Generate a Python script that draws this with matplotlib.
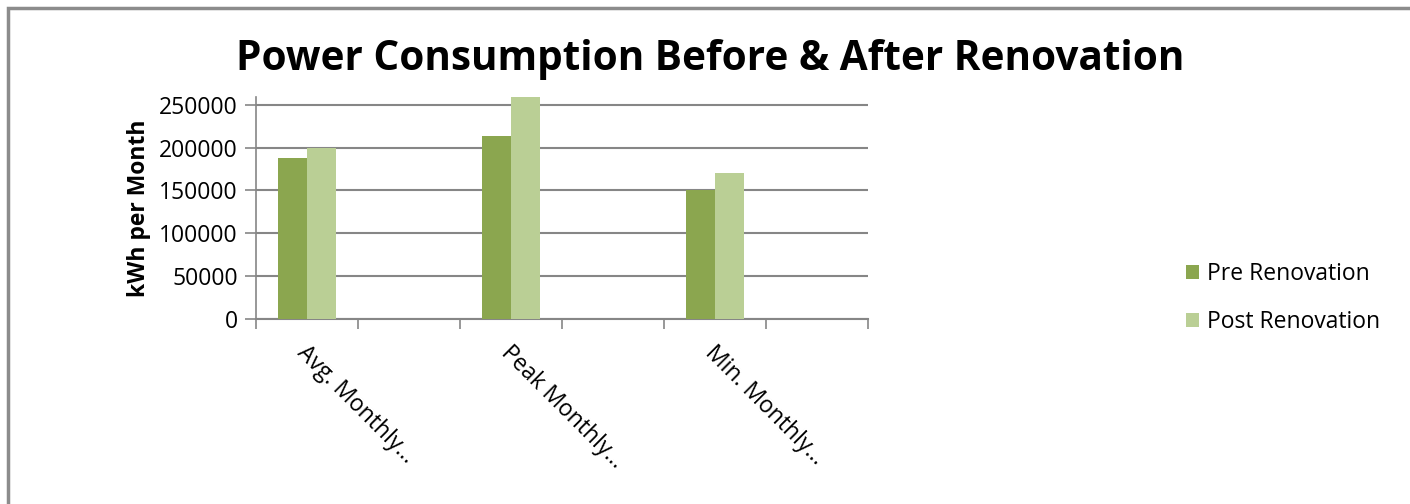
import numpy as np
import matplotlib
matplotlib.use("Agg")
import matplotlib.pyplot as plt
from matplotlib.patches import Rectangle

# six category slots; labels only drawn on every other one (like the original)
categories = ["Avg. Monthly...", "", "Peak Monthly...", "", "Min. Monthly...", ""]
pre_renovation = [188000, np.nan, 214000, np.nan, 150000, np.nan]
post_renovation = [200000, np.nan, 259000, np.nan, 170000, np.nan]
series_names = ["Pre Renovation", "Post Renovation"]
y_ticks = [0, 50000, 100000, 150000, 200000, 250000]

PRE_COLOR = "#8BA64F"
POST_COLOR = "#BACF95"
GRID = "#868686"

plt.rcParams["font.family"] = ["Open Sans", "DejaVu Sans"]

fig = plt.figure(figsize=(14.1, 5.04), dpi=100)
ax = fig.add_axes([256 / 1410, 1 - 319 / 504, 612 / 1410, 222 / 504])

x = np.arange(len(categories))
w = 1 / 3.5  # excel gap width 150%
ax.bar(x - w / 2, pre_renovation, w, color=PRE_COLOR, label=series_names[0], zorder=3)
ax.bar(x + w / 2, post_renovation, w, color=POST_COLOR, label=series_names[1], zorder=3)

ax.set_xlim(-0.5, len(categories) - 0.5)
ax.set_ylim(0, 259000)
ax.set_yticks(y_ticks)
ax.set_yticklabels([str(v) for v in y_ticks], fontsize=16.5)
ax.yaxis.grid(True, color=GRID, linewidth=1.5, zorder=0)
ax.tick_params(axis="y", length=8, width=1.2, color=GRID, pad=5)

# category ticks on the slot boundaries, labels at the slot centres
ax.set_xticks(np.arange(-0.5, len(categories), 1.0))
ax.set_xticklabels([])
ax.tick_params(axis="x", length=7, width=1.2, color=GRID)
for i, lab in enumerate(categories):
    if lab:
        ax.text(i + 0.02, -0.10, lab, transform=ax.get_xaxis_transform(),
                rotation=-45, rotation_mode="anchor", ha="left", va="top",
                fontsize=16.5)

for side in ["top", "right"]:
    ax.spines[side].set_visible(False)
ax.spines["left"].set_color(GRID)
ax.spines["bottom"].set_color(GRID)
ax.spines["left"].set_linewidth(1.2)
ax.spines["bottom"].set_linewidth(1.5)

ax.set_ylabel("kWh per Month", fontsize=16.5, fontweight="bold", labelpad=6)

fig.text(0.5035, 1 - 60 / 504, "Power Consumption Before & After Renovation",
         ha="center", va="center", fontsize=29.2, fontweight="bold")

ax.legend(loc="center left", bbox_to_anchor=(1165 / 1410, 1 - 298 / 504),
          bbox_transform=fig.transFigure, frameon=False, fontsize=16.5,
          handlelength=0.6, handleheight=0.6, handletextpad=0.35,
          labelspacing=1.05)

# chart frame
fig.patches.append(Rectangle((8 / 1410, -0.1), 1.2, 1 - 8 / 504 + 0.1,
                             transform=fig.transFigure, fill=False,
                             edgecolor="#8C8C8C", linewidth=2.5))

fig.savefig("out.png", dpi=100)
